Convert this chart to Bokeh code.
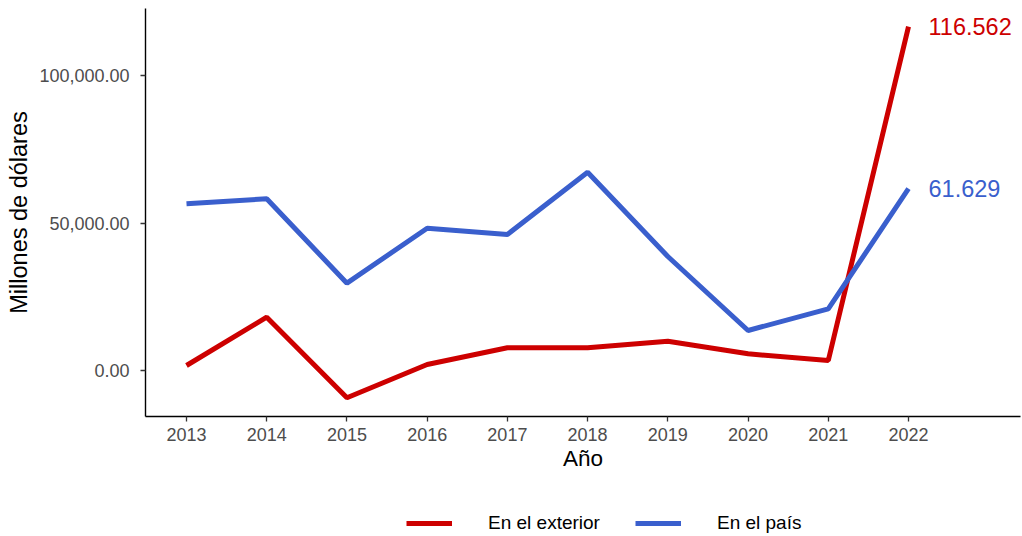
from bokeh.plotting import figure
from bokeh.layouts import column
from bokeh.models import (Range1d, FixedTicker, NumeralTickFormatter, Legend, LegendItem,
                          ColumnDataSource)
from bokeh.core.properties import value
from bokeh.embed import file_html
from bokeh.resources import INLINE

years = [2013, 2014, 2015, 2016, 2017, 2018, 2019, 2020, 2021, 2022]
exterior = [1700, 18070, -9250, 2030, 7690, 7690, 9930, 5660, 3390, 116562]
pais = [56500, 58200, 29600, 48240, 46100, 67200, 38640, 13560, 20900, 61629]
end_labels = ["116.562", "61.629"]
series_names = ["En el exterior", "En el país"]
colors = ["#CD0000", "#3A5FCD"]

FONT = "Liberation Sans"

# frame: x 145..1020 (2013 at 186, 2022 at 908), y 8..416 (0 at 370, 50k per 147.5px)
p = figure(width=1022, height=480, output_backend="svg", toolbar_location=None,
           x_range=Range1d(2012.489, 2023.396), y_range=Range1d(-15593, 122712),
           min_border_left=145, min_border_right=2, min_border_top=8, min_border_bottom=64)
p.outline_line_color = None
p.xgrid.visible = False
p.ygrid.visible = False
p.background_fill_color = "white"
p.border_fill_color = "white"

r1 = p.line(years, exterior, line_color=colors[0], line_width=5)
r2 = p.line(years, pais, line_color=colors[1], line_width=5)

lab_src = ColumnDataSource(dict(x=[years[-1], years[-1]], y=[exterior[-1], pais[-1]],
                                t=end_labels, c=colors))
p.text(x="x", y="y", text="t", text_color="c", source=lab_src, x_offset=20,
       text_baseline="middle", text_align="left", text_font=value(FONT), text_font_size="23.5px")

for ax in (p.xaxis[0], p.yaxis[0]):
    ax.axis_line_color = "black"
    ax.axis_line_width = 1.4
    ax.major_tick_line_color = "#333333"
    ax.major_tick_line_width = 1.3
    ax.major_tick_in = 0
    ax.major_tick_out = 5
    ax.minor_tick_line_color = None
    ax.major_label_text_font = FONT
    ax.major_label_text_font_size = "18px"
    ax.major_label_text_color = "#4D4D4D"
    ax.axis_label_text_font = FONT
    ax.axis_label_text_font_style = "normal"
    ax.axis_label_text_color = "black"

p.xaxis.ticker = FixedTicker(ticks=years)
p.xaxis.axis_label = "Año"
p.xaxis.axis_label_text_font_size = "22.5px"
p.xaxis.major_label_standoff = 6
p.xaxis.axis_label_standoff = 2

p.yaxis.ticker = FixedTicker(ticks=[0, 50000, 100000])
p.yaxis.formatter = NumeralTickFormatter(format="0,0.00")
p.yaxis.axis_label = "Millones de dólares"
p.yaxis.axis_label_text_font_size = "23.5px"
p.yaxis.major_label_standoff = 11
p.yaxis.axis_label_standoff = 4

# legend strip below the chart (its series sit outside the strip's view, only the legend shows)
pl = figure(width=1022, height=56, output_backend="svg", toolbar_location=None,
            x_range=Range1d(0, 1), y_range=Range1d(0, 1),
            x_axis_location=None, y_axis_location=None, min_border=0)
pl.outline_line_color = None
pl.xgrid.visible = False
pl.ygrid.visible = False
l1 = pl.line(years, exterior, line_color=colors[0], line_width=5)
l2 = pl.line(years, pais, line_color=colors[1], line_width=5)
legend = Legend(items=[LegendItem(label=series_names[0], renderers=[l1]),
                       LegendItem(label=series_names[1], renderers=[l2])],
                orientation="horizontal", location=(261, 2),
                glyph_width=46, glyph_height=20, label_standoff=36, spacing=35,
                padding=0, margin=0, border_line_color=None, background_fill_alpha=0,
                label_text_font=FONT, label_text_font_size="19px", label_text_color="black")
pl.add_layout(legend, "center")

layout = column(p, pl, spacing=0)
open("out.html", "w").write(file_html(layout, INLINE))
